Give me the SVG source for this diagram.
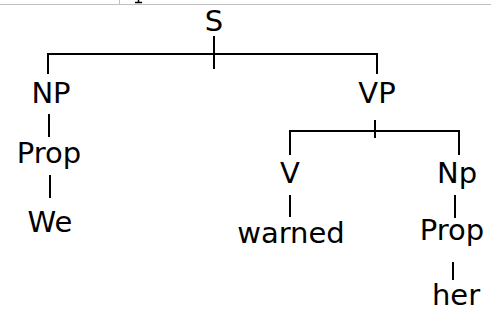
<svg xmlns="http://www.w3.org/2000/svg" width="491" height="321" viewBox="0 0 491 321">
<style>
.t{font-family:"DejaVu Sans","Verdana",sans-serif;font-size:29px;fill:#000;text-anchor:middle}
.e{stroke:#000;stroke-width:2;fill:none}
.g{stroke:#c0c0c0;stroke-width:1;fill:none}
</style>
<rect width="491" height="321" fill="#fff"/>
<g id="frame">
<line class="g" x1="0" y1="4.5" x2="491" y2="4.5"/>
<line class="g" x1="119.5" y1="0" x2="119.5" y2="4"/>
<path d="M138.5,0 V2 M135,2.5 H142" stroke="#000" stroke-width="1.5" fill="none"/>
</g>
<g id="connectors">
<path class="e" d="M214,36 V69 M48,74 V54 H377 V74"/>
<line class="e" x1="49" y1="114" x2="49" y2="137"/>
<line class="e" x1="50" y1="175" x2="50" y2="198"/>
<path class="e" d="M375,120 V138 M290,155 V131 H459 V155"/>
<line class="e" x1="290" y1="195" x2="290" y2="217"/>
<line class="e" x1="455" y1="195" x2="455" y2="218"/>
<line class="e" x1="453" y1="262" x2="453" y2="280"/>
</g>
<g id="S"><text class="t" x="214" y="31">S</text></g>
<g id="NP"><text class="t" x="51" y="103">NP</text></g>
<g id="VP"><text class="t" x="377" y="103">VP</text></g>
<g id="Prop1"><text class="t" x="49" y="163">Prop</text></g>
<g id="We"><text class="t" x="50" y="232">We</text></g>
<g id="V"><text class="t" x="290" y="183">V</text></g>
<g id="Np"><text class="t" x="457" y="183">Np</text></g>
<g id="warned"><text class="t" x="291" y="243">warned</text></g>
<g id="Prop2"><text class="t" x="452" y="240">Prop</text></g>
<g id="her"><text class="t" x="456" y="305">her</text></g>
</svg>
